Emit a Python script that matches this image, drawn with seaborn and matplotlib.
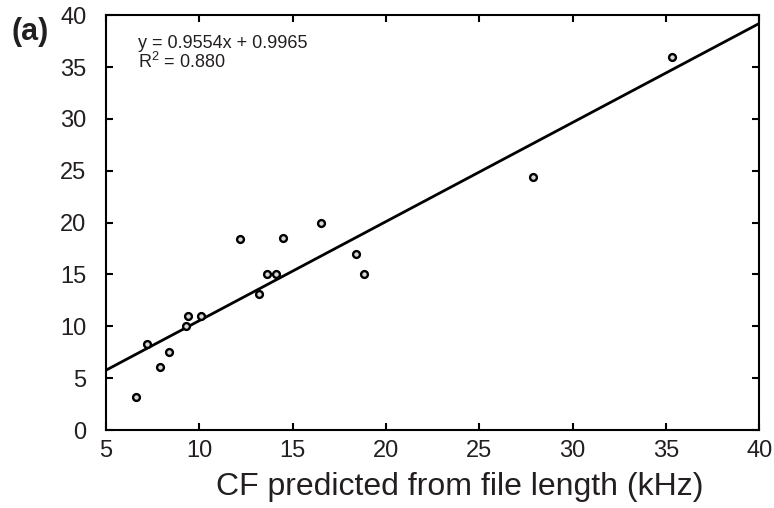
import matplotlib
matplotlib.use("Agg")
import matplotlib.pyplot as plt
import seaborn as sns
import numpy as np
import pandas as pd

# Data
cf_predicted = [6.6, 7.2, 7.9, 8.4, 9.3, 9.4, 10.1, 12.2, 13.2, 13.6, 14.1, 14.5, 16.5, 18.4, 18.8, 27.9, 35.3]
cf_measured = [3.2, 8.3, 6.1, 7.5, 10.0, 11.0, 11.0, 18.4, 13.1, 15.0, 15.0, 18.5, 20.0, 17.0, 15.0, 24.4, 36.0]
slope = 0.9554
intercept = 0.9965
r_squared = 0.880
x_ticks = [5, 10, 15, 20, 25, 30, 35, 40]
y_ticks = [0, 5, 10, 15, 20, 25, 30, 35, 40]

sns.set_style("ticks")
plt.rcParams['font.family'] = ['Liberation Sans', 'DejaVu Sans']
plt.rcParams['mathtext.fontset'] = 'custom'
plt.rcParams['mathtext.rm'] = 'Liberation Sans'
txt_color = "#231f20"

fig = plt.figure(figsize=(7.74, 5.08), dpi=100)
ax = fig.add_axes([0.137, 0.1535, 0.844, 0.8165])

df = pd.DataFrame({"x": cf_predicted, "y": cf_measured})
sns.scatterplot(data=df, x="x", y="y", ax=ax, s=24, color="#d8d8d8",
                edgecolor="black", linewidth=1.7, zorder=3)

line_x = np.array([x_ticks[0], x_ticks[-1]])
line_df = pd.DataFrame({"x": line_x, "y": slope * line_x + intercept})
sns.lineplot(data=line_df, x="x", y="y", ax=ax, color="black", linewidth=2, zorder=2)

ax.set_xlim(5, 40)
ax.set_ylim(0, 40)
ax.set_xticks(x_ticks)
ax.set_yticks(y_ticks)
ax.tick_params(direction="in", length=5, width=1.5, top=True, right=True,
               labelsize=17, color="black", labelcolor=txt_color)
ax.tick_params(axis="y", pad=14)
ax.tick_params(axis="x", pad=7)
for sp in ax.spines.values():
    sp.set_linewidth(1.5)
    sp.set_color("black")

ax.set_xlabel("CF predicted from file length (kHz)", fontsize=23, color=txt_color)
ax.xaxis.set_label_coords(0.542, -0.102, transform=ax.transAxes)
ax.xaxis.label.set_va("top")
ax.set_ylabel("")

eq_text = f"y = {slope}x + {intercept}\nR$\\mathregular{{^2}}$ = {r_squared:.3f}"
ax.text(0.049, 0.874, eq_text, transform=ax.transAxes,
        fontsize=13, va="baseline", ha="left", color=txt_color, linespacing=0.95)

fig.text(0.015, 0.937, "(a)", fontsize=22, fontweight="bold", va="center", ha="left",
         color=txt_color)

fig.savefig("out.png", dpi=100)
